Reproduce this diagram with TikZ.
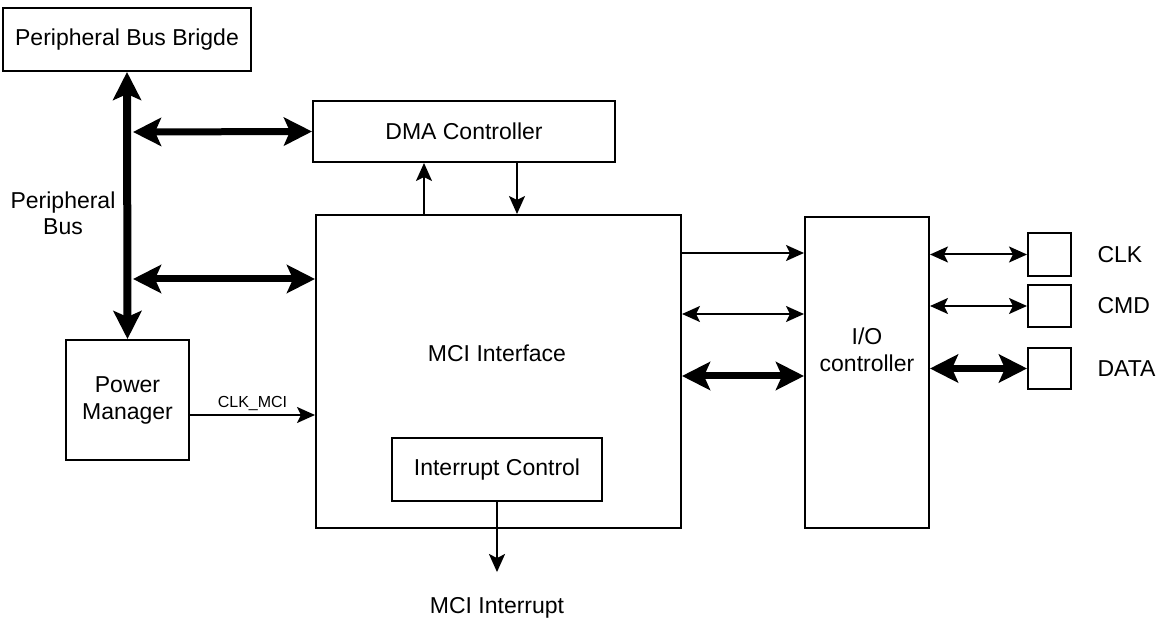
\documentclass[tikz,border=0pt]{standalone}
\usepackage{fontspec}
\setmainfont{Liberation Sans}
\usetikzlibrary{arrows.meta,positioning}
\tikzset{>={Stealth[length=18pt,width=16pt,inset=4pt]}}
\tikzset{
  block/.style 2 args = {draw, line width=2pt, inner sep=0pt, minimum width=#1, minimum height=#2},
  sig/.style = {line width=2pt, ->},
  sigboth/.style = {line width=2pt, <->},
  bus/.style = {line width=7pt, {Stealth[length=28pt,width=28pt,inset=6pt]}-{Stealth[length=28pt,width=28pt,inset=6pt]}}
}

\begin{document}
\begin{tikzpicture}[x=1pt,y=-1pt,font=\fontsize{23}{27}\selectfont]
  \useasboundingbox (0,0) rectangle (1163,620);
  % blocks
  \node[block={248pt}{63pt}] (bridge) at (127,39.5) {Peripheral Bus Brigde};
  \node[block={302pt}{61pt}] (dma) at (464,131.5) {DMA Controller};
  \node[block={365pt}{313pt}] (mci) at (498.5,371.5) {};
  \node (mcilabel) at (497,353) {MCI Interface};
  \node[block={210pt}{63pt}] (irq) at (497,469.5) {Interrupt Control};
  \node[block={123pt}{120pt},align=center] (pm) at (127.5,400) {Power\\Manager};
  \node[block={124pt}{311pt}] (io) at (867,372.5) {};
  \node[align=center] (iolabel) at (867,350) {I/O\\controller};
  \node[align=center,font=\fontsize{23}{26}\selectfont] (buslabel) at (63,213) {Peripheral\\Bus};
  % pads
  \node[block={43pt}{43pt}] (clk) at (1049.5,254.5) {};
  \node[block={43pt}{42pt}] (cmd) at (1049.5,306) {};
  \node[block={43pt}{41pt}] (data) at (1049.5,368.5) {};
  \node[right=22pt of clk] (clklabel) {CLK};
  \node[right=22pt of cmd] (cmdlabel) {CMD};
  \node[right=22pt of data] (datalabel) {DATA};
  % peripheral bus
  \coordinate (busdma) at (133,132);
  \coordinate (busmci) at (133,279);
  \draw[bus,line width=8pt] (bridge.south) -- (pm.north);
  \draw[bus] (busdma) -- (dma.west);
  \draw[bus] (busmci) -- (mci.west |- busmci);
  % clock
  \draw[sig] (pm.east |- 0,415) -- (mci.west |- 0,415)
    node[midway,above,font=\fontsize{16}{19}\selectfont] {CLK\_MCI};
  % dma
  \draw[sig] (mci.north -| 424,0) -- (dma.south -| 424,0);
  \draw[sig] (dma.south -| 517,0) -- (mci.north -| 517,0);
  % mci to io
  \draw[sig] (mci.east |- 0,253) -- (io.west |- 0,253);
  \draw[sigboth] (mci.east |- 0,314) -- (io.west |- 0,314);
  \draw[bus] (mci.east |- 0,376) -- (io.west |- 0,376);
  % io to pads
  \draw[sigboth] (io.east |- clk.west) -- (clk.west);
  \draw[sigboth] (io.east |- cmd.west) -- (cmd.west);
  \draw[bus] (io.east |- data.west) -- (data.west);
  % interrupt
  \node (irqout) at (497,608) {MCI Interrupt};
  \draw[sig,shorten >=22pt] (irq.south) -- (irqout.north);
\end{tikzpicture}
\end{document}
